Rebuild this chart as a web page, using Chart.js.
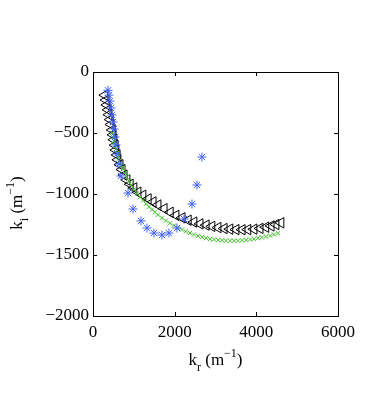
<!DOCTYPE html>
<html>
<head>
<meta charset="utf-8">
<script src="https://cdn.jsdelivr.net/npm/chart.js@4/dist/chart.umd.min.js"></script>
<style>
  html, body { margin: 0; padding: 0; background: #fff; }
</style>
</head>
<body>
<canvas id="chart" width="374" height="402"></canvas>
<script>
// --- DATA ---
const xTicks = [0, 2000, 4000, 6000];
const yTicks = [0, -500, -1000, -1500, -2000];

// black left-pointing triangles
const triKr = [290, 320, 340, 370, 390, 420, 440, 470, 490, 510, 540, 560, 590, 610, 660, 710, 760, 830, 910, 1000,
               1100, 1220, 1350, 1470, 1590, 1740, 1890, 2030, 2180, 2330, 2470, 2620, 2770, 2910, 3060, 3210, 3350,
               3500, 3650, 3790, 3940, 4090, 4230, 4360, 4480, 4600];
const triKi = [-190, -230, -270, -310, -350, -390, -430, -475, -515, -555, -600, -640, -680, -720, -760, -800, -845,
               -885, -920, -950, -985, -1010, -1040, -1065, -1090, -1120, -1150, -1175, -1195, -1215, -1230, -1245,
               -1255, -1265, -1275, -1283, -1288, -1292, -1293, -1292, -1288, -1282, -1272, -1262, -1250, -1236];

// green crosses
const crossKr = [465, 490, 515, 540, 565, 590, 610, 635, 685, 735, 785, 830, 880, 930, 1000, 1080, 1150, 1225, 1300,
                 1370, 1445, 1520, 1590, 1690, 1785, 1885, 1985, 2080, 2180, 2275, 2375, 2470, 2570, 2670, 2765, 2865,
                 2960, 3060, 3160, 3255, 3355, 3450, 3550, 3650, 3745, 3845, 3940, 4040, 4135, 4235, 4335, 4430, 4530];
const crossKi = [-500, -533, -566, -598, -631, -664, -697, -730, -762, -795, -828, -861, -893, -926, -962, -995, -1025,
                 -1052, -1080, -1105, -1128, -1150, -1170, -1195, -1218, -1240, -1258, -1276, -1292, -1307, -1320,
                 -1332, -1344, -1354, -1362, -1368, -1373, -1377, -1380, -1382, -1383, -1383, -1382, -1380, -1377,
                 -1373, -1368, -1362, -1356, -1349, -1341, -1332, -1322];

// blue stars
const starKr = [367, 392, 416, 441, 465, 490, 514, 539, 563, 587, 636, 685, 857, 979, 1175, 1322, 1493, 1689, 1860,
                2056, 2228, 2424, 2546, 2668];
const starKi = [-150, -190, -238, -295, -352, -410, -467, -533, -598, -672, -754, -852, -992, -1123, -1221, -1279,
                -1320, -1336, -1320, -1279, -1205, -1082, -926, -697];

const pts = (xs, ys) => xs.map((x, i) => ({ x: x, y: ys[i] }));
const serif = '"Liberation Serif", "DejaVu Serif", serif';
const minus = v => String(v).replace('-', '\u2212');

// --- box, inward ticks and axis titles ---
const matlabAxes = {
    id: 'matlabAxes',
    afterDraw(chart) {
        const ctx = chart.ctx;
        const a = chart.chartArea;
        const xs = chart.scales.x, ys = chart.scales.y;
        const len = 4;
        ctx.save();
        ctx.strokeStyle = '#000';
        ctx.lineWidth = 1;
        ctx.strokeRect(Math.round(a.left) + 0.5, Math.round(a.top) + 0.5,
                       Math.round(a.right - a.left), Math.round(a.bottom - a.top));
        ctx.beginPath();
        xTicks.forEach(v => {
            const px = Math.round(xs.getPixelForValue(v)) + 0.5;
            ctx.moveTo(px, a.bottom); ctx.lineTo(px, a.bottom - len);
            ctx.moveTo(px, a.top); ctx.lineTo(px, a.top + len);
        });
        yTicks.forEach(v => {
            const py = Math.round(ys.getPixelForValue(v)) + 0.5;
            ctx.moveTo(a.left, py); ctx.lineTo(a.left + len, py);
            ctx.moveTo(a.right, py); ctx.lineTo(a.right - len, py);
        });
        ctx.stroke();

        // titles with sub/superscripts
        const drawTitle = (parts, cx, baseY) => {
            let w = 0;
            parts.forEach(p => { ctx.font = (p.small ? 12 : 17) + 'px ' + serif; w += ctx.measureText(p.t).width; });
            let x = cx - w / 2;
            ctx.fillStyle = '#000';
            ctx.textBaseline = 'alphabetic';
            ctx.textAlign = 'left';
            parts.forEach(p => {
                ctx.font = (p.small ? 12 : 17) + 'px ' + serif;
                ctx.fillText(p.t, x, baseY + (p.dy || 0));
                x += ctx.measureText(p.t).width;
            });
        };
        drawTitle([{ t: 'k' }, { t: 'r', small: true, dy: 6 }, { t: ' (m' }, { t: '\u22121', small: true, dy: -8 }, { t: ')' }],
                  (a.left + a.right) / 2, 365);
        ctx.translate(22, 203);
        ctx.rotate(-Math.PI / 2);
        drawTitle([{ t: 'k' }, { t: 'i', small: true, dy: 6 }, { t: ' (m' }, { t: '\u22121', small: true, dy: -8 }, { t: ')' }],
                  0, 0);
        ctx.restore();
    }
};

const ctx = document.getElementById('chart').getContext('2d');
const chart = new Chart(ctx, {
    type: 'scatter',
    data: {
        datasets: [
            {
                label: 'stars',
                data: pts(starKr, starKi),
                pointStyle: 'star',
                pointRadius: 4.5,
                borderColor: '#4262ff',
                backgroundColor: '#4262ff',
                pointBorderWidth: 1
            },
            {
                label: 'crosses',
                data: pts(crossKr, crossKi),
                pointStyle: 'crossRot',
                pointRadius: 3,
                borderColor: '#3fbf2a',
                pointBorderWidth: 1
            },
            {
                label: 'triangles',
                data: pts(triKr, triKi),
                pointStyle: 'triangle',
                rotation: -90,
                pointRadius: 6,
                borderColor: '#000',
                backgroundColor: 'rgba(0,0,0,0)',
                pointBorderWidth: 1
            }
        ]
    },
    options: {
        responsive: false,
        animation: false,
        layout: { padding: { left: 0, top: 72, right: 36, bottom: 0 } },
        plugins: {
            legend: { display: false },
            tooltip: { enabled: false }
        },
        scales: {
            x: {
                type: 'linear',
                min: 0, max: 6000,
                afterBuildTicks: s => { s.ticks = xTicks.map(v => ({ value: v })); },
                afterFit: s => { s.height = 86; },
                grid: { display: false, drawTicks: false },
                border: { display: false },
                ticks: {
                    padding: 6,
                    color: '#000',
                    font: { family: serif, size: 17 },
                    maxRotation: 0,
                    callback: v => minus(v)
                }
            },
            y: {
                type: 'linear',
                min: -2000, max: 0,
                afterBuildTicks: s => { s.ticks = yTicks.map(v => ({ value: v })); },
                afterFit: s => { s.width = 93; },
                grid: { display: false, drawTicks: false },
                border: { display: false },
                ticks: {
                    padding: 4,
                    color: '#000',
                    font: { family: serif, size: 17 },
                    callback: v => minus(v)
                }
            }
        }
    },
    plugins: [matlabAxes]
});
</script>
</body>
</html>
